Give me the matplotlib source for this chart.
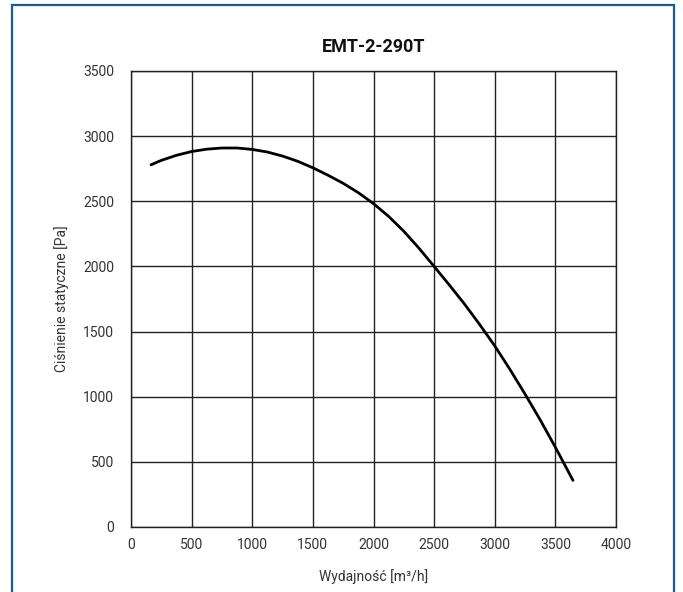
import matplotlib
matplotlib.use("Agg")
import matplotlib.pyplot as plt
from matplotlib.patches import Rectangle

plt.rcParams['font.family'] = ['Roboto', 'DejaVu Sans']

title = "EMT-2-290T"
xlabel = "Wydajność [m³/h]"
ylabel = "Ciśnienie statyczne [Pa]"

flow = [165, 250, 375, 500, 625, 750, 875, 1000, 1125, 1250, 1375, 1500, 1625, 1750,
        1875, 2000, 2125, 2250, 2375, 2500, 2625, 2750, 2875, 3000, 3125, 3250, 3375,
        3500, 3645]
pressure = [2780, 2814, 2853, 2882, 2900, 2909, 2909, 2898, 2878, 2847, 2807, 2757, 2700,
            2638, 2566, 2482, 2384, 2270, 2140, 2000, 1858, 1712, 1555, 1390, 1210, 1020,
            822, 612, 358]

xticks = [0, 500, 1000, 1500, 2000, 2500, 3000, 3500, 4000]
yticks = [0, 500, 1000, 1500, 2000, 2500, 3000, 3500]

W, H = 683, 592
fig = plt.figure(figsize=(W / 100, H / 100), dpi=100)
ax = fig.add_axes([131 / W, (H - 527) / H, (616 - 131) / W, (527 - 71) / H])

ax.plot(flow, pressure, color='black', lw=2.0, solid_capstyle='round',
        solid_joinstyle='round')
ax.set_xlim(0, 4000)
ax.set_ylim(0, 3500)
ax.set_xticks(xticks)
ax.set_yticks(yticks)
ax.grid(True, color='#222222', lw=1.0)
ax.set_axisbelow(True)
for s in ax.spines.values():
    s.set_color('#222222')
    s.set_linewidth(1.0)
ax.tick_params(length=0, labelsize=10, colors='#333333', pad=12)
ax.tick_params(axis='x', pad=8)

ax.set_xlabel(xlabel, fontsize=10, color='#333333', labelpad=12)
ax.set_ylabel(ylabel, fontsize=10, color='#333333', labelpad=10)
fig.text((131 + 616) / 2 / W, 1 - 47 / H, title, ha='center', va='center',
         fontsize=13, fontweight='bold', color='#111111')

fig.patches.append(Rectangle((12 / W, -0.05), (674 - 12) / W, 1.05 - 5 / H,
                             transform=fig.transFigure, fill=False,
                             edgecolor='#1a5b9c', lw=1.6, clip_on=False))

fig.savefig("out.png", dpi=100, facecolor='white')
